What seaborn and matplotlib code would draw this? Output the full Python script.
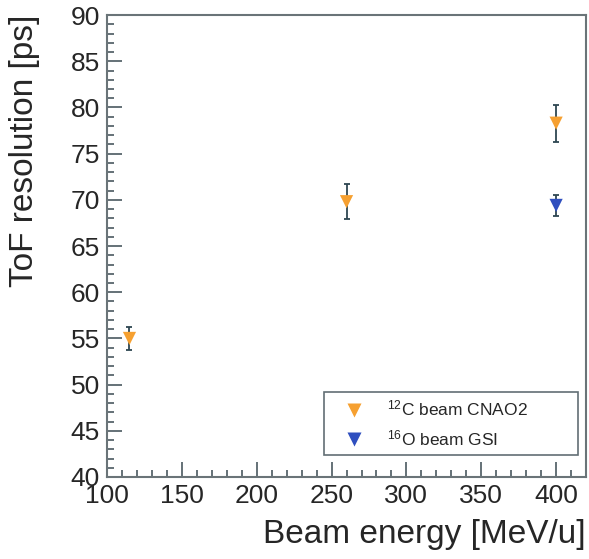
"""ToF resolution vs beam energy, ROOT-style plot redone with seaborn."""
import matplotlib
matplotlib.use('Agg')
import matplotlib.pyplot as plt
from matplotlib.ticker import MultipleLocator
import pandas as pd
import seaborn as sns

# data
carbon_energy = [115, 260, 400]
carbon_tof = [55.0, 69.8, 78.3]
carbon_err = [1.2, 1.9, 2.0]

oxygen_energy = [400]
oxygen_tof = [69.4]
oxygen_err = [1.1]

labels = [r'$^{12}$C beam CNAO2', r'$^{16}$O beam GSI']
colors = ['#f6a030', '#2f4fbf']

df = pd.DataFrame({
    'energy': carbon_energy + oxygen_energy,
    'tof': carbon_tof + oxygen_tof,
    'err': carbon_err + oxygen_err,
    'beam': [labels[0]] * len(carbon_energy) + [labels[1]] * len(oxygen_energy),
})

sns.set_style('ticks')
plt.rcParams['font.family'] = ['Liberation Sans', 'DejaVu Sans']
plt.rcParams['mathtext.default'] = 'regular'

fig = plt.figure(figsize=(5.89, 5.59), dpi=100)
axes = fig.add_axes([0.1817, 0.1467, 0.8133, 0.8263])

# error bars first, markers on top
axes.errorbar(df['energy'], df['tof'], yerr=df['err'], fmt='none',
              ecolor='#2e4652', elinewidth=1.3, capsize=2.2, capthick=1.3, zorder=2)
sns.scatterplot(data=df, x='energy', y='tof', hue='beam', palette=colors,
                marker='v', s=90, edgecolor='none', ax=axes, zorder=3)

axes.set_xlim(100, 420)
axes.set_ylim(40, 90)
axes.xaxis.set_major_locator(MultipleLocator(50))
axes.xaxis.set_minor_locator(MultipleLocator(10))
axes.yaxis.set_major_locator(MultipleLocator(5))
axes.yaxis.set_minor_locator(MultipleLocator(1))
axes.tick_params(which='both', direction='in', color='#3a4a52', width=1.1,
                 labelsize=19, top=False, right=False)
axes.tick_params(which='major', length=11, pad=5)
axes.tick_params(which='minor', length=5)
for spine in axes.spines.values():
    spine.set_color('#6a7478')
    spine.set_linewidth(1.5)

# ROOT puts the titles at the far ends of the axes
axes.set_xlabel('Beam energy [MeV/u]', fontsize=24, ha='right', va='top')
axes.set_ylabel('ToF resolution [ps]', fontsize=24, ha='right', va='bottom')
axes.xaxis.set_label_coords(1.0, -0.09)
axes.yaxis.set_label_coords(-0.14, 1.0)

handles, _ = axes.get_legend_handles_labels()
leg = axes.legend(handles, labels, loc='lower left',
                  bbox_to_anchor=(0.453, 0.0476, 0.530, 0.136), mode='expand',
                  fontsize=12.5, frameon=True, fancybox=False, borderpad=0.4,
                  labelspacing=0.55, handletextpad=0.6, borderaxespad=0,
                  markerscale=1.0, handlelength=2.6)
leg.get_frame().set_edgecolor('#3a4a52')
leg.get_frame().set_linewidth(1.2)

fig.savefig('out.png', dpi=100)
